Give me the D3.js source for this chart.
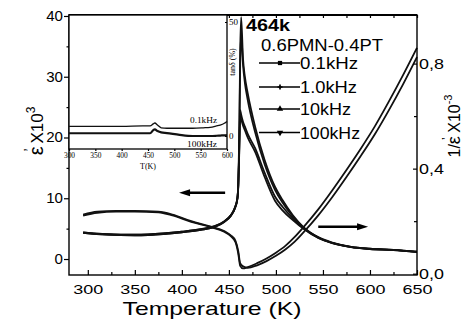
<!DOCTYPE html>
<html>
<head>
<meta charset="utf-8">
<script src="https://cdn.jsdelivr.net/npm/d3@7"></script>
<style>
  body { margin: 0; background: #fff; }
  svg { display: block; font-family: "Liberation Sans", Arial, sans-serif; }
  .frame { fill: none; stroke: #000; stroke-width: 1.4; }
  .curve { fill: none; stroke: #111; stroke-width: 1.8; }
  .axis path { display: none; }
  .axis line { stroke: #000; stroke-width: 1.2; }
  .axis text { fill: #000; }
</style>
</head>
<body>
<div id="chart"></div>
<script>
// frequency labels for the legend
const freqs = ['0.1kHz', '1.0kHz', '10kHz', '100kHz'];

// real permittivity eps' (x10^3), one array per frequency
const epsTemp = [295, 320, 350, 380, 400, 420, 435, 445, 452, 456, 459, 460, 461, 462, 463, 465, 467, 470, 478, 488, 499, 507, 518, 529, 545, 560, 580, 600, 625, 650];
const eps01  = [4.4, 4.1, 4.0, 4.2, 4.5, 4.9, 5.4, 6.2, 7.2, 8.3, 10.0, 12.5, 20.0, 34.0, 39.8, 33.0, 30.0, 27.3, 21.7, 16.3, 11.9, 9.7, 7.2, 5.3, 3.6, 2.7, 2.0, 1.7, 1.5, 1.2];
const eps1   = [4.4, 4.1, 4.0, 4.2, 4.5, 4.9, 5.4, 6.2, 7.2, 8.3, 10.0, 12.3, 19.0, 32.0, 37.0, 32.0, 29.0, 26.2, 20.8, 15.6, 11.4, 9.3, 7.0, 5.2, 3.55, 2.65, 2.0, 1.7, 1.5, 1.2];
const eps10  = [4.3, 4.0, 3.9, 4.1, 4.4, 4.8, 5.3, 6.1, 7.1, 8.2, 9.9, 12.2, 18.0, 24.5, 23.8, 22.6, 21.8, 20.6, 18.2, 14.2, 10.3, 8.6, 6.7, 5.1, 3.5, 2.6, 1.95, 1.65, 1.45, 1.15];
const eps100 = [4.3, 4.0, 3.9, 4.1, 4.4, 4.8, 5.3, 6.1, 7.1, 8.2, 9.8, 12.0, 17.5, 23.4, 23.0, 22.0, 21.2, 20.0, 17.6, 13.5, 9.6, 8.0, 6.4, 5.0, 3.45, 2.6, 1.95, 1.65, 1.45, 1.15];

// inverse permittivity 1/eps' (x10^-3), right axis
const invTemp = [295, 310, 330, 350, 375, 390, 410, 430, 445, 452, 457, 460, 462, 465, 470, 480, 490, 500, 510, 520, 530, 545, 560, 575, 590, 605, 620, 635, 650];
const inv01  = [0.221, 0.232, 0.236, 0.236, 0.234, 0.222, 0.197, 0.178, 0.160, 0.143, 0.120, 0.076, 0.030, 0.020, 0.025, 0.040, 0.058, 0.080, 0.106, 0.140, 0.180, 0.245, 0.318, 0.395, 0.475, 0.560, 0.655, 0.755, 0.860];
const inv100 = [0.225, 0.236, 0.239, 0.239, 0.236, 0.225, 0.200, 0.180, 0.162, 0.146, 0.125, 0.085, 0.040, 0.028, 0.022, 0.032, 0.048, 0.068, 0.092, 0.122, 0.160, 0.222, 0.292, 0.368, 0.447, 0.530, 0.622, 0.720, 0.825];

// inset: loss tangent (%)
const tanTemp = [300, 350, 400, 440, 454, 460, 463, 468, 475, 486, 510, 535, 555, 568, 580, 587, 595, 600];
const tan01   = [4.2, 4.2, 4.2, 4.4, 4.4, 5.3, 5.7, 4.8, 3.6, 3.4, 3.4, 3.4, 3.6, 3.8, 4.4, 4.8, 5.6, 6.4];
const tan100  = [1.2, 1.2, 1.2, 1.2, 1.2, 2.6, 2.9, 2.2, 1.6, 1.3, 0.5, 0.0, 0.0, 0.0, 0.1, 0.2, 0.3, 0.4];

// tick labels
const xTicks = [300, 350, 400, 450, 500, 550, 600, 650];
const xMinor = [325, 375, 425, 475, 525, 575, 625];
const yLeftTicks = [0, 10, 20, 30, 40];
const yLeftMinor = [5, 15, 25, 35];
const yRightTicks = [0, 0.4, 0.8];
const yRightMinor = [0.2, 0.6];
const insetXTicks = [300, 350, 400, 450, 500, 550, 600];
const insetYTicks = [0, 50];

// arrows: [T start, T end, eps' level]
const arrows = [[446, 397, 10.9], [545, 598, 5.3]];

const W = 466, H = 322;
const plot = { left: 69, right: 417, top: 15, bottom: 275 };
const inset = { right: 227, bottom: 149 };

const svg = d3.select('#chart').append('svg')
              .attr('width', W)
              .attr('height', H);

const x = d3.scaleLinear().domain([280, 650]).range([plot.left, plot.right]);
const yL = d3.scaleLinear().domain([-2.63, 40.16]).range([plot.bottom, plot.top]);
const yR = d3.scaleLinear().domain([-0.005, 0.985]).range([plot.bottom, plot.top]);
const xi = d3.scaleLinear().domain([300, 600]).range([plot.left, inset.right]);
const yi = d3.scaleLinear().domain([-5.7, 53.07]).range([inset.bottom, plot.top]);

function stretch(sel, perChar) {
  sel.selectAll('text')
     .attr('textLength', function() { return this.textContent.length * perChar; })
     .attr('lengthAdjust', 'spacingAndGlyphs');
}

// ---- main curves ----
const epsLine = d3.line().x(d => x(d[0])).y(d => yL(d[1])).curve(d3.curveMonotoneX);
const invLine = d3.line().x(d => x(d[0])).y(d => yR(d[1])).curve(d3.curveMonotoneX);

[eps01, eps1, eps10, eps100].forEach(function(vals) {
  svg.append('path')
     .attr('class', 'curve')
     .attr('d', epsLine(epsTemp.map((t, i) => [t, vals[i]])));
});
[inv01, inv100].forEach(function(vals) {
  svg.append('path')
     .attr('class', 'curve')
     .attr('d', invLine(invTemp.map((t, i) => [t, vals[i]])));
});

// ---- arrows ----
arrows.forEach(function(a) {
  const x1 = x(a[0]), x2 = x(a[1]), y = yL(a[2]);
  const dir = x2 > x1 ? 1 : -1;
  svg.append('line')
     .attr('x1', x1).attr('y1', y)
     .attr('x2', x2 - dir * 8).attr('y2', y)
     .attr('stroke', '#000').attr('stroke-width', 2.4);
  svg.append('path')
     .attr('d', `M${x2},${y} L${x2 - dir * 11},${y - 3.5} L${x2 - dir * 11},${y + 3.5} Z`)
     .attr('fill', '#000');
});

// ---- main axes ----
svg.append('g').attr('class', 'axis')
   .attr('transform', `translate(0,${plot.bottom})`)
   .call(d3.axisBottom(x).tickValues(xTicks).tickSizeInner(-5).tickPadding(9))
   .call(g => g.selectAll('text').style('font-size', '13.5px'))
   .call(g => stretch(g, 10));
svg.append('g').attr('class', 'axis')
   .attr('transform', `translate(0,${plot.bottom})`)
   .call(d3.axisBottom(x).tickValues(xMinor).tickSizeInner(-3).tickFormat(''));
svg.append('g').attr('class', 'axis')
   .attr('transform', `translate(0,${plot.top})`)
   .call(d3.axisTop(x).tickValues(xTicks.concat(xMinor)).tickSizeInner(-3).tickFormat(''));

svg.append('g').attr('class', 'axis')
   .attr('transform', `translate(${plot.left},0)`)
   .call(d3.axisLeft(yL).tickValues(yLeftTicks).tickSizeInner(5).tickPadding(1))
   .call(g => g.selectAll('text').style('font-size', '14px'))
   .call(g => stretch(g, 8.4));
svg.append('g').attr('class', 'axis')
   .attr('transform', `translate(${plot.left},0)`)
   .call(d3.axisLeft(yL).tickValues(yLeftMinor).tickSizeInner(2.5).tickFormat(''));

svg.append('g').attr('class', 'axis')
   .attr('transform', `translate(${plot.right},0)`)
   .call(d3.axisRight(yR).tickValues(yRightTicks).tickSizeInner(-4).tickPadding(2)
           .tickFormat(d => d3.format('.1f')(d).replace('.', ',')))
   .call(g => g.selectAll('text').style('font-size', '14px'))
   .call(g => stretch(g, 8.3));
svg.append('g').attr('class', 'axis')
   .attr('transform', `translate(${plot.right},0)`)
   .call(d3.axisRight(yR).tickValues(yRightMinor).tickSizeInner(-3).tickFormat(''));

svg.append('rect')
   .attr('class', 'frame')
   .attr('x', plot.left).attr('y', plot.top)
   .attr('width', plot.right - plot.left)
   .attr('height', plot.bottom - plot.top);
svg.append('line')
   .attr('x1', plot.left).attr('x2', plot.right)
   .attr('y1', plot.top).attr('y2', plot.top)
   .attr('stroke', '#000').attr('stroke-width', 2.2);

// axis titles
svg.append('text')
   .attr('x', 212).attr('y', 315)
   .attr('text-anchor', 'middle')
   .attr('font-size', 18.5)
   .attr('textLength', 179)
   .attr('lengthAdjust', 'spacingAndGlyphs')
   .text('Temperature (K)');

const leftTitle = svg.append('text')
   .attr('transform', 'translate(43,131) rotate(-90)')
   .attr('text-anchor', 'middle')
   .attr('font-size', 17);
leftTitle.append('tspan').attr('font-size', 20).text('ε');
leftTitle.append('tspan').attr('dy', -9).attr('dx', -5).attr('font-size', 14).text('\u2019');
leftTitle.append('tspan').attr('dy', 9).text(' X10');
leftTitle.append('tspan').attr('dy', -8).attr('font-size', 12).text('3');

const rightTitle = svg.append('text')
   .attr('transform', 'translate(460,126) rotate(-90)')
   .attr('text-anchor', 'middle')
   .attr('font-size', 16);
rightTitle.append('tspan').text('1/');
rightTitle.append('tspan').attr('font-size', 18).text('ε');
rightTitle.append('tspan').attr('dy', -9).attr('dx', -4).attr('font-size', 13).text('\u2019');
rightTitle.append('tspan').attr('dy', 9).text(' X10');
rightTitle.append('tspan').attr('dy', -8).attr('font-size', 11).text('-3');

// ---- inset ----
const ins = svg.append('g');
ins.append('rect')
   .attr('x', plot.left).attr('y', plot.top)
   .attr('width', inset.right - plot.left)
   .attr('height', inset.bottom - plot.top)
   .attr('fill', '#fff')
   .attr('stroke', '#000')
   .attr('stroke-width', 1.3);

const tanLine = d3.line().x(d => xi(d[0])).y(d => yi(d[1])).curve(d3.curveMonotoneX);
ins.append('path')
   .attr('fill', 'none').attr('stroke', '#111').attr('stroke-width', 1.3)
   .attr('d', tanLine(tanTemp.map((t, i) => [t, tan01[i]])));
ins.append('path')
   .attr('fill', 'none').attr('stroke', '#111').attr('stroke-width', 2.2)
   .attr('d', tanLine(tanTemp.map((t, i) => [t, tan100[i]])));

ins.append('g').attr('class', 'axis')
   .attr('transform', `translate(0,${inset.bottom})`)
   .call(d3.axisBottom(xi).tickValues(insetXTicks).tickSizeInner(2).tickPadding(1))
   .call(g => g.selectAll('text').style('font-family', '"Liberation Serif", serif').style('font-size', '9px'))
   .call(g => stretch(g, 3.7));
ins.append('text')
   .attr('x', xi(450)).attr('y', 169)
   .attr('text-anchor', 'middle')
   .attr('font-family', '"Liberation Serif", serif')
   .attr('font-size', 8)
   .text('T(K)');

ins.append('g').attr('class', 'axis')
   .attr('transform', `translate(${inset.right},0)`)
   .call(d3.axisRight(yi).tickValues(insetYTicks).tickSizeInner(-2).tickPadding(2))
   .call(g => g.selectAll('text').style('font-family', '"Liberation Serif", serif').style('font-size', '9px'));
ins.append('text')
   .attr('transform', `translate(235,62) rotate(-90)`)
   .attr('text-anchor', 'middle')
   .attr('font-family', '"Liberation Serif", serif')
   .attr('font-size', 8)
   .text('tanδ (%)');

ins.append('text')
   .attr('x', 190).attr('y', 122.5)
   .attr('font-family', '"Liberation Serif", serif')
   .attr('font-size', 8)
   .attr('textLength', 27).attr('lengthAdjust', 'spacingAndGlyphs')
   .text(freqs[0]);
ins.append('text')
   .attr('x', 187).attr('y', 147)
   .attr('font-family', '"Liberation Serif", serif')
   .attr('font-size', 8)
   .attr('textLength', 30).attr('lengthAdjust', 'spacingAndGlyphs')
   .text(freqs[3]);

// ---- annotations and legend ----
svg.append('text')
   .attr('x', 246).attr('y', 31)
   .attr('font-size', 16).attr('font-weight', 'bold')
   .attr('textLength', 44).attr('lengthAdjust', 'spacingAndGlyphs')
   .text('464k');
svg.append('text')
   .attr('x', 261).attr('y', 51)
   .attr('font-size', 16)
   .attr('textLength', 122).attr('lengthAdjust', 'spacingAndGlyphs')
   .text('0.6PMN-0.4PT');

const symbols = [d3.symbolSquare, d3.symbolCross, d3.symbolTriangle, d3.symbolTriangle];
const legendY = [63, 87, 109, 132.5];
const legendW = [58, 57, 51, 60];
freqs.forEach(function(f, i) {
  const g = svg.append('g').attr('transform', `translate(0,${legendY[i]})`);
  g.append('line')
   .attr('x1', 259).attr('x2', 300)
   .attr('stroke', '#000').attr('stroke-width', 1.6);
  g.append('path')
   .attr('d', d3.symbol().type(symbols[i]).size(i === 1 ? 14 : 18)())
   .attr('transform', `translate(280,0)${i === 3 ? ' rotate(180)' : ''}`)
   .attr('fill', '#000');
  g.append('text')
   .attr('x', 300).attr('y', 6)
   .attr('font-size', 16)
   .attr('textLength', legendW[i]).attr('lengthAdjust', 'spacingAndGlyphs')
   .text(f);
});
</script>
</body>
</html>
